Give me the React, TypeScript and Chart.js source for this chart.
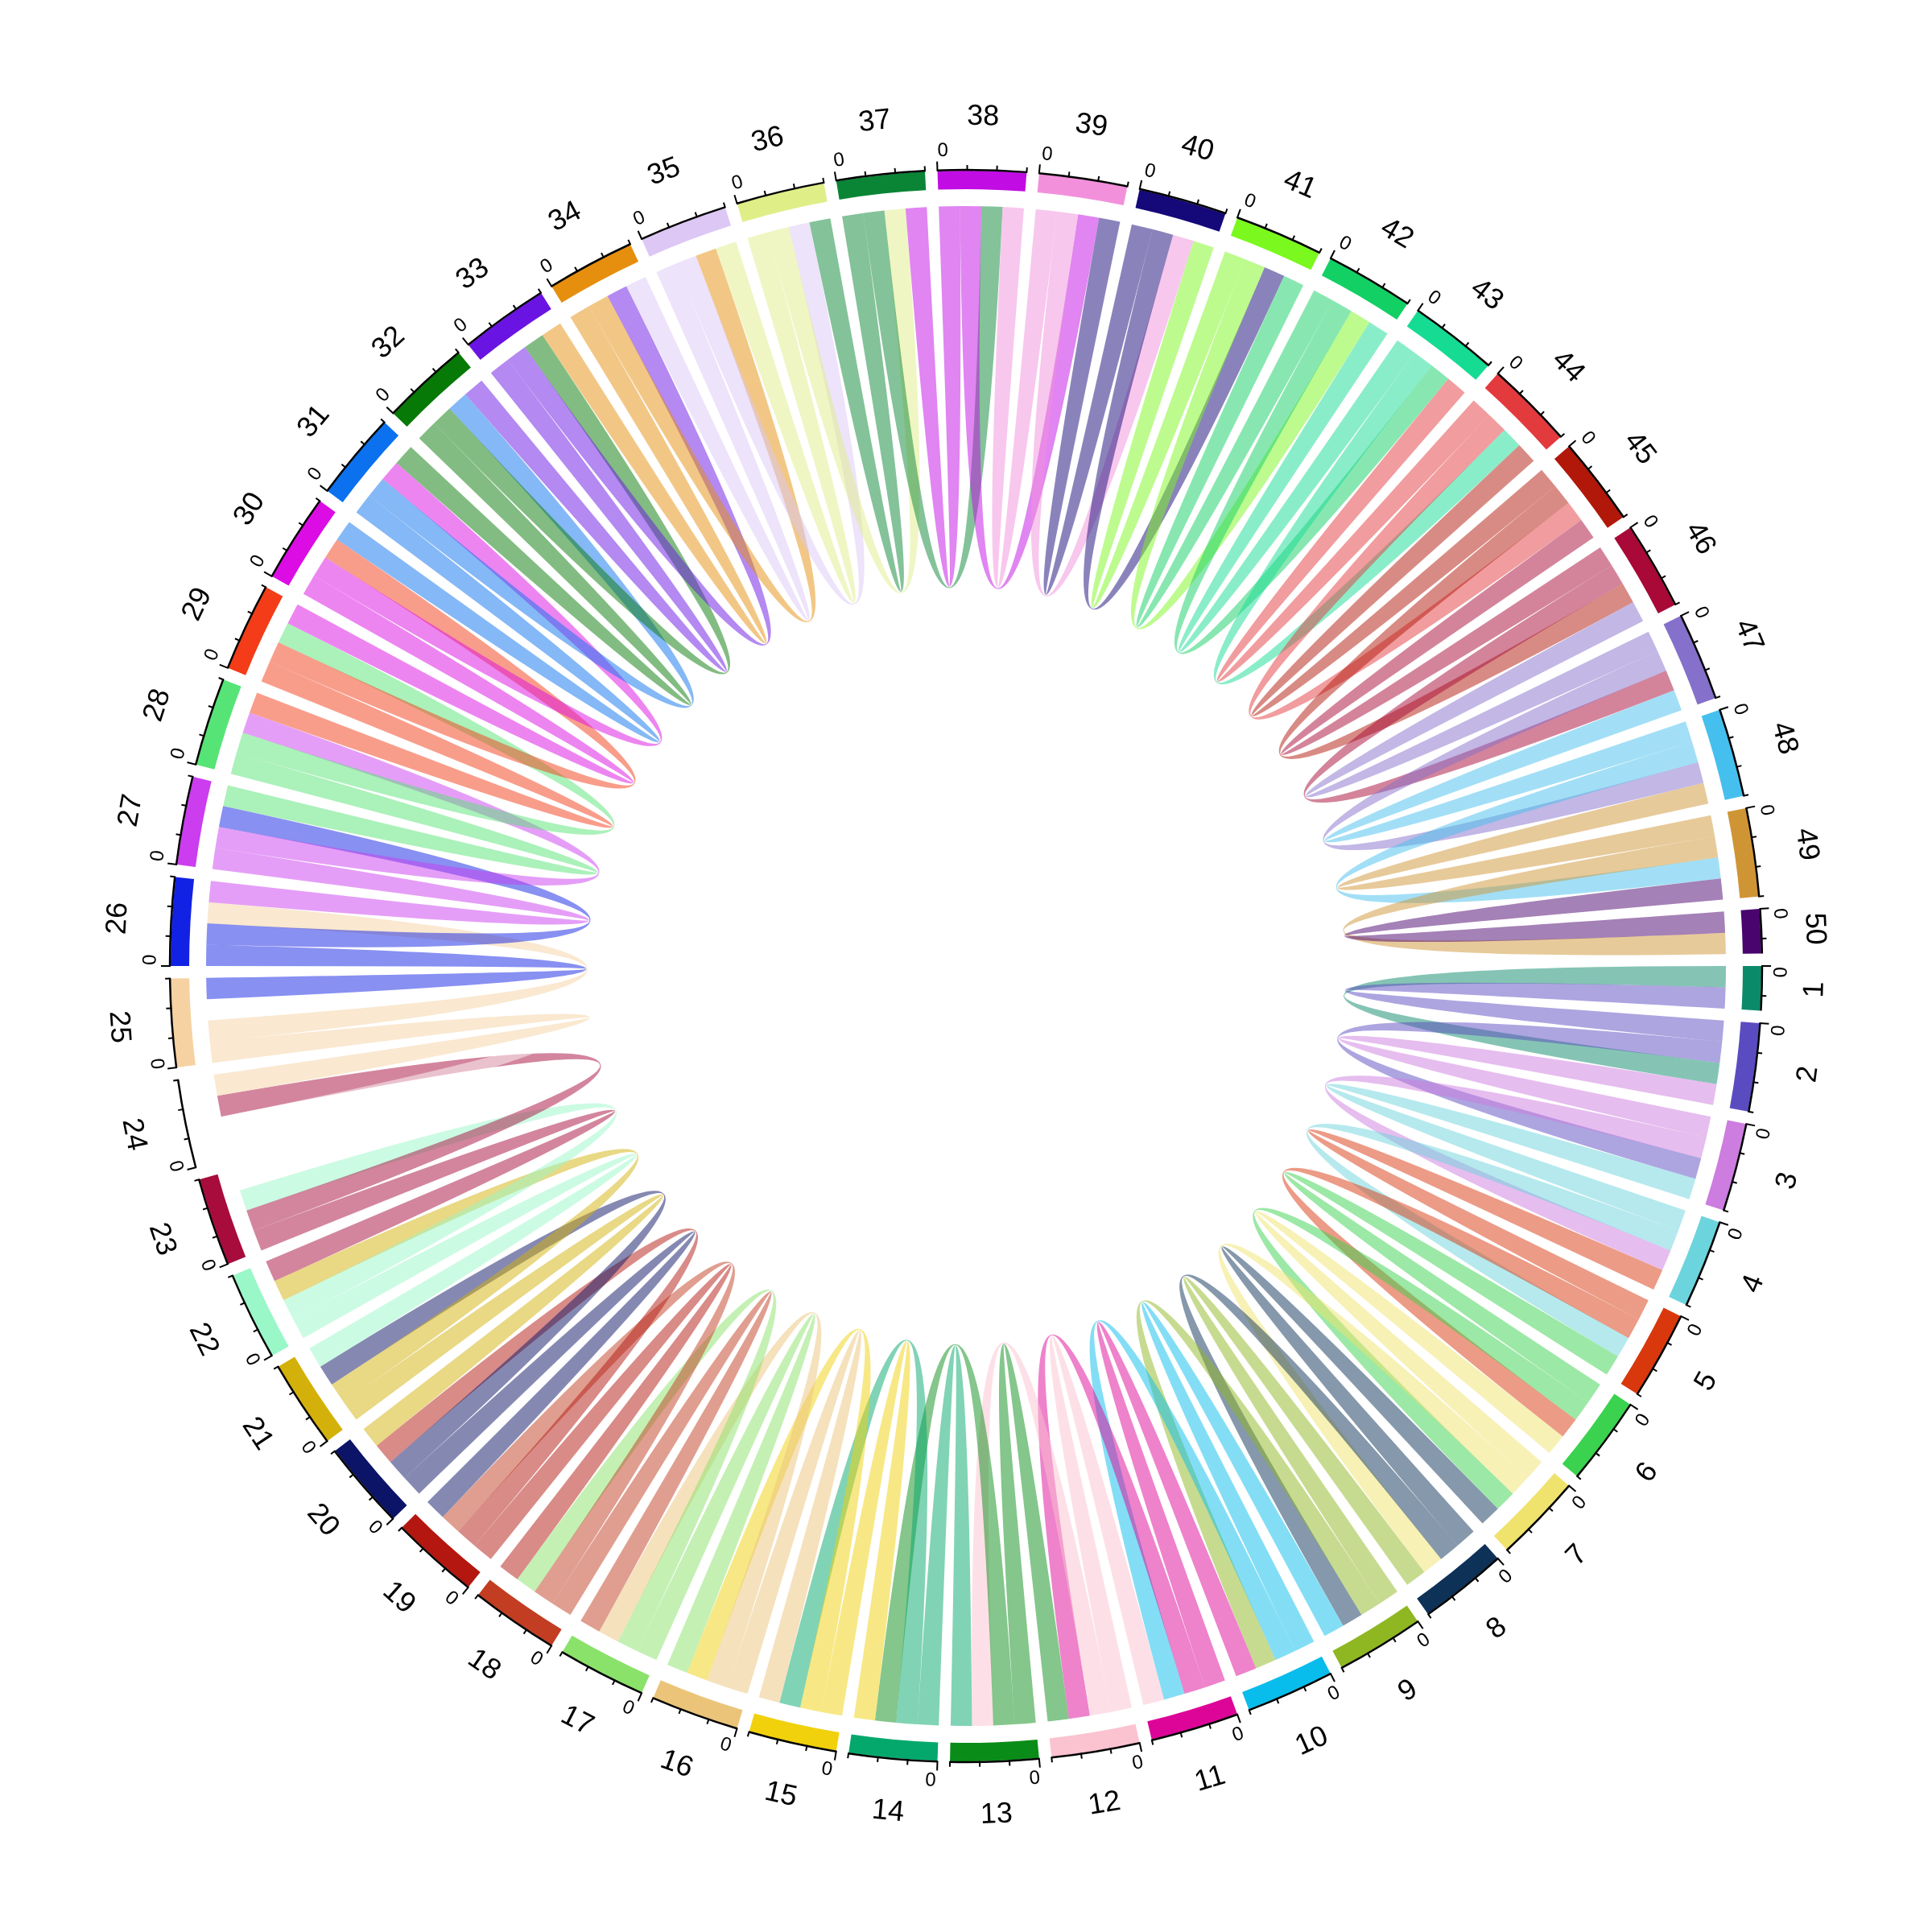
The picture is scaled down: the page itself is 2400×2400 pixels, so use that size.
import React, { useEffect, useRef } from 'react';
import { Chart, registerables } from 'chart.js';

Chart.register(...registerables);

const sectorNames = [
  '1', '2', '3', '4', '5', '6', '7', '8', '9', '10',
  '11', '12', '13', '14', '15', '16', '17', '18', '19', '20',
  '21', '22', '23', '24', '25', '26', '27', '28', '29', '30',
  '31', '32', '33', '34', '35', '36', '37', '38', '39', '40',
  '41', '42', '43', '44', '45', '46', '47', '48', '49', '50',
];

const sectorColors = [
  '#0B8A69', '#5B4BC1', '#CD7CE0', '#6CD4DC', '#D9380D', '#3AD24E', '#EFE36E', '#0E3158', '#8FB722', '#08BDEB',
  '#DD0597', '#FBC2D0', '#0A8D18', '#04A86C', '#F0D10B', '#EBC479', '#8AE26A', '#C23D22', '#B3170F', '#0B1466',
  '#D4B10A', '#99F7C8', '#A70C3D', '#FFFFFF', '#F6D2A2', '#1222E4', '#CB3DEF', '#57E476', '#F43C18', '#DC0CE4',
  '#0B71EE', '#067906', '#6914E3', '#E68F0E', '#DCC7F5', '#E0EE88', '#098535', '#C10CE3', '#F290DB', '#150878',
  '#7BF81E', '#12D064', '#15DB93', '#E33A3E', '#B2180A', '#A80937', '#8570CB', '#45C0EE', '#CF9535', '#49046E',
];

// links: source sector -> target sector
const linkFrom = [
  1, 2, 2, 3, 3, 4, 4, 5, 5, 6, 6, 7, 7, 8, 8, 9, 9, 10, 10, 11,
  11, 12, 12, 13, 13, 14, 14, 15, 15, 16, 16, 17, 17, 18, 18, 19, 19, 20, 20, 21,
  21, 22, 22, 23, 23, 24, 24, 25, 25, 26, 26, 27, 27, 28, 28, 29, 29, 30, 30, 31,
  31, 32, 32, 33, 33, 34, 34, 35, 35, 36, 36, 37, 37, 38, 38, 39, 39, 40, 40, 41,
  41, 42, 42, 43, 43, 44, 44, 45, 45, 46, 46, 47, 47, 48, 48, 49, 49, 50,
];
const linkTo = [
  2, 1, 3, 2, 4, 3, 5, 4, 6, 5, 7, 6, 8, 7, 9, 8, 10, 9, 11, 10,
  12, 11, 13, 12, 14, 13, 15, 14, 16, 15, 17, 16, 18, 17, 19, 18, 20, 19, 21, 20,
  22, 21, 23, 22, 24, 23, 25, 24, 26, 25, 27, 26, 28, 27, 29, 28, 30, 29, 31, 30,
  32, 31, 33, 32, 34, 33, 35, 34, 36, 35, 37, 36, 38, 37, 39, 38, 40, 39, 41, 40,
  42, 41, 43, 42, 44, 43, 45, 44, 46, 45, 47, 46, 48, 47, 49, 48, 50, 49,
];
const linkValue = [
  0.75, 0.75, 0.75, 0.75, 0.75, 0.75, 0.75, 0.75, 0.75, 0.75, 0.75, 0.75, 0.75, 0.75, 0.75, 0.75, 0.75, 0.75, 0.75, 0.75,
  0.75, 0.75, 0.75, 0.75, 0.75, 0.75, 0.75, 0.75, 0.75, 0.75, 0.75, 0.75, 0.75, 0.75, 0.75, 0.75, 0.75, 0.75, 0.75, 0.75,
  0.75, 0.75, 0.75, 0.75, 0.75, 0.75, 0.75, 0.75, 0.75, 0.75, 0.75, 0.75, 0.75, 0.75, 0.75, 0.75, 0.75, 0.75, 0.75, 0.75,
  0.75, 0.75, 0.75, 0.75, 0.75, 0.75, 0.75, 0.75, 0.75, 0.75, 0.75, 0.75, 0.75, 0.75, 0.75, 0.75, 0.75, 0.75, 0.75, 0.75,
  0.75, 0.75, 0.75, 0.75, 0.75, 0.75, 0.75, 0.75, 0.75, 0.75, 0.75, 0.75, 0.75, 0.75, 0.75, 0.75, 0.75, 0.75,
];

const tickStep = 1;
const firstTickLabel = '0';
const GAP = 0.42; // gap between sectors, in data units

const LINK_ALPHA = 0.5;
const R_OUT = 988;
const R_IN = 965;
const R_LINK = 944;
const R_AXIS = 989;
const R_ZERO = 1013;
const R_NAME = 1055;
const FONT = '"Liberation Sans", Arial, Helvetica, sans-serif';

const sectorTotals = sectorNames.map((_, i) => {
  const id = i + 1;
  let s = 0;
  for (let k = 0; k < linkValue.length; k++) {
    if (linkFrom[k] === id) s += linkValue[k];
    if (linkTo[k] === id) s += linkValue[k];
  }
  return s;
});

function rgba(hex: string, a: number) {
  const h = hex.replace('#', '');
  const r = parseInt(h.slice(0, 2), 16);
  const g = parseInt(h.slice(2, 4), 16);
  const b = parseInt(h.slice(4, 6), 16);
  return `rgba(${r},${g},${b},${a})`;
}

function tangentText(ctx: CanvasRenderingContext2D, text: string, cx: number, cy: number, r: number, ang: number, font: string) {
  const x = cx + r * Math.cos(ang);
  const y = cy + r * Math.sin(ang);
  const TWO = Math.PI * 2;
  let rot = ang + Math.PI / 2;
  rot = ((rot % TWO) + TWO) % TWO;
  if (rot > Math.PI / 2 && rot < (3 * Math.PI) / 2) rot -= Math.PI;
  ctx.save();
  ctx.translate(x, y);
  ctx.rotate(rot);
  ctx.font = font;
  ctx.textAlign = 'center';
  ctx.textBaseline = 'middle';
  ctx.fillStyle = '#000';
  ctx.fillText(text, 0, 0);
  ctx.restore();
}

const chordPlugin = {
  id: 'chordLinks',
  afterDatasetsDraw(chart: any) {
    const ctx: CanvasRenderingContext2D = chart.ctx;
    const arcs = chart.getDatasetMeta(0).data;
    const cx = arcs[0].x;
    const cy = arcs[0].y;
    const sec = sectorNames.map((_, i) => {
      const p = arcs[2 * i].getProps(['startAngle', 'endAngle'], true);
      return { start: p.startAngle as number, end: p.endAngle as number };
    });

    const srcSpan: number[][] = [];
    const tgtSpan: number[][] = [];
    const idx = linkValue.map((_, k) => k);
    sectorNames.forEach((_, i) => {
      const id = i + 1;
      const out = idx.filter((k) => linkFrom[k] === id).sort((a, b) => linkTo[a] - linkTo[b]);
      const inc = idx.filter((k) => linkTo[k] === id).sort((a, b) => linkFrom[a] - linkFrom[b]);
      const scale = (sec[i].end - sec[i].start) / sectorTotals[i];
      let a = sec[i].start;
      out.forEach((k) => {
        const w = linkValue[k] * scale;
        srcSpan[k] = [a, a + w];
        a += w;
      });
      inc.forEach((k) => {
        const w = linkValue[k] * scale;
        tgtSpan[k] = [a, a + w];
        a += w;
      });
    });

    const pt = (ang: number) => [cx + R_LINK * Math.cos(ang), cy + R_LINK * Math.sin(ang)];

    ctx.save();
    idx.forEach((k) => {
      const [a0, a1] = srcSpan[k];
      const [b0, b1] = tgtSpan[k];
      const p0 = pt(a0);
      const q0 = pt(b0);
      ctx.beginPath();
      ctx.moveTo(p0[0], p0[1]);
      ctx.arc(cx, cy, R_LINK, a0, a1, false);
      ctx.quadraticCurveTo(cx, cy, q0[0], q0[1]);
      ctx.arc(cx, cy, R_LINK, b0, b1, false);
      ctx.quadraticCurveTo(cx, cy, p0[0], p0[1]);
      ctx.closePath();
      ctx.fillStyle = rgba(sectorColors[linkFrom[k] - 1], LINK_ALPHA);
      ctx.fill();
    });
    ctx.restore();

    // axes, ticks, labels
    ctx.save();
    ctx.strokeStyle = '#000';
    ctx.lineCap = 'butt';
    sec.forEach((s, i) => {
      ctx.lineWidth = 2.5;
      ctx.beginPath();
      ctx.arc(cx, cy, R_AXIS, s.start, s.end, false);
      ctx.stroke();
      const span = s.end - s.start;
      ctx.lineWidth = 2;
      for (let t = 0; t <= sectorTotals[i] + 1e-6; t += tickStep) {
        const ang = s.start + (t / sectorTotals[i]) * span;
        const len = t === 0 ? 11 : 6;
        ctx.beginPath();
        ctx.moveTo(cx + (R_AXIS - 1) * Math.cos(ang), cy + (R_AXIS - 1) * Math.sin(ang));
        ctx.lineTo(cx + (R_AXIS + len) * Math.cos(ang), cy + (R_AXIS + len) * Math.sin(ang));
        ctx.stroke();
      }
      ctx.font = `24px ${FONT}`;
      const w = ctx.measureText(firstTickLabel).width;
      tangentText(ctx, firstTickLabel, cx, cy, R_ZERO, s.start + (w / 2 + 1) / R_ZERO, `24px ${FONT}`);
      tangentText(ctx, sectorNames[i], cx, cy, R_NAME, (s.start + s.end) / 2, `36px ${FONT}`);
    });
    ctx.restore();
  },
};

export default function App() {
  const ref = useRef<HTMLCanvasElement>(null);
  useEffect(() => {
    const canvas = ref.current;
    if (!canvas) return;
    const data: number[] = [];
    const bg: string[] = [];
    const labels: string[] = [];
    sectorNames.forEach((name, i) => {
      data.push(sectorTotals[i]);
      bg.push(sectorColors[i]);
      labels.push(name);
      data.push(GAP);
      bg.push('rgba(0,0,0,0)');
      labels.push('');
    });
    const chart = new Chart(canvas, {
      type: 'doughnut',
      data: {
        labels,
        datasets: [
          {
            data,
            backgroundColor: bg,
            borderWidth: 0,
            hoverOffset: 0,
          },
        ],
      },
      options: {
        responsive: false,
        animation: false,
        events: [],
        rotation: 90,
        circumference: 360,
        radius: R_OUT,
        cutout: `${(R_IN / R_OUT) * 100}%`,
        layout: { padding: 0 },
        plugins: {
          legend: { display: false },
          tooltip: { enabled: false },
        },
      } as any,
      plugins: [chordPlugin],
    });
    return () => chart.destroy();
  }, []);
  return (
    <div style={{ position: 'absolute', left: 0, top: 0, width: 2400, height: 2400, background: '#ffffff' }}>
      <canvas ref={ref} width={2400} height={2400} style={{ width: 2400, height: 2400, display: 'block' }} />
    </div>
  );
}
